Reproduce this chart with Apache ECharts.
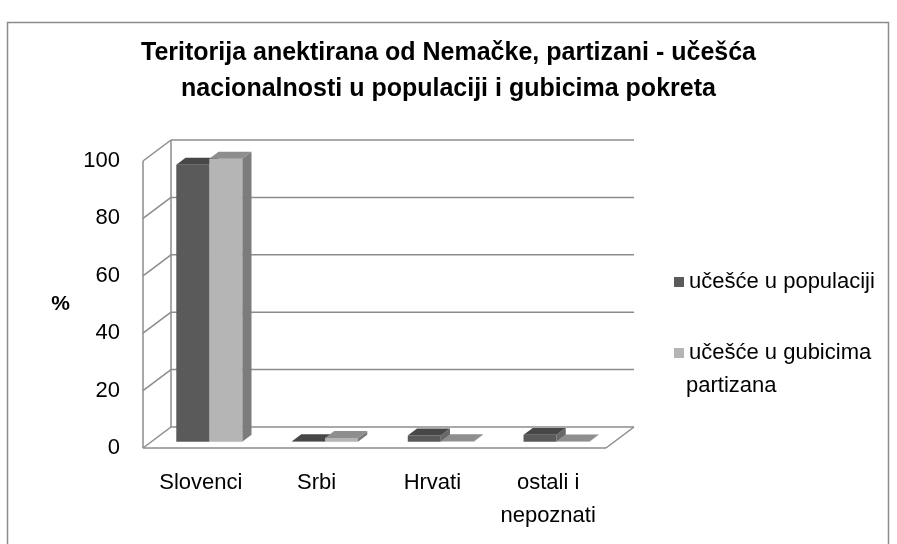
<!DOCTYPE html>
<html>
<head>
<meta charset="utf-8">
<script src="https://cdn.jsdelivr.net/npm/echarts@6/dist/echarts.min.js"></script>
<style>
  html, body { margin: 0; padding: 0; background: #fff; }
  #chart { width: 897px; height: 544px; }
</style>
</head>
<body>
<div id="chart"></div>
<script>
// podaci sa slike (procena)
const categories = ['Slovenci', 'Srbi', 'Hrvati', 'ostali i\nnepoznati'];
const populacija = [96.5, 0.2, 2.2, 2.4];
const gubici = [98.6, 1.3, 0.2, 0.1];
const yTicks = [0, 20, 40, 60, 80, 100];

const seriesNames = ['učešće u populaciji', 'učešće u gubicima'];

// dubina 3D pogleda u pikselima
const DX = 28, DY = -21;
const FONT = "'Liberation Sans', Arial, sans-serif";

const darkColors = { front: '#5a5a5a', side: '#686868', top: '#474747' };
const lightColors = { front: '#b5b5b5', side: '#7c7c7c', top: '#8e8e8e' };

function barRender(left, colors) {
  return function (params, api) {
    const cat = api.value(0);
    const val = api.value(1);
    const band = api.size([1, 0])[0];
    const w = band * 0.285;
    const base = api.coord([cat, 0]);
    const top = api.coord([cat, val]);
    const x0 = left ? base[0] - w : base[0];
    const x1 = x0 + w;
    const f = 0.3, b = 0.63;
    const fx = DX * f, fy = DY * f, bx = DX * b, by = DY * b;
    return {
      type: 'group',
      children: [
        {
          type: 'polygon',
          shape: { points: [[x1 + fx, top[1] + fy], [x1 + bx, top[1] + by], [x1 + bx, base[1] + by], [x1 + fx, base[1] + fy]] },
          style: { fill: colors.side }
        },
        {
          type: 'rect',
          shape: { x: x0 + fx, y: top[1] + fy, width: w, height: base[1] - top[1] },
          style: { fill: colors.front }
        },
        {
          type: 'polygon',
          shape: { points: [[x0 + fx, top[1] + fy], [x1 + fx, top[1] + fy], [x1 + bx, top[1] + by], [x0 + bx, top[1] + by]] },
          style: { fill: colors.top }
        }
      ]
    };
  };
}

function wallRender(params, api) {
  const v = api.value(1);
  const cs = params.coordSys;
  const l = cs.x, r = cs.x + cs.width;
  const y = api.coord([0, v])[1];
  const line = { stroke: '#8c8c8c', lineWidth: 1.5 };
  const kids = [
    { type: 'line', shape: { x1: l + DX, y1: y + DY, x2: r + DX, y2: y + DY }, style: line },
    { type: 'line', shape: { x1: l, y1: y, x2: l + DX, y2: y + DY }, style: line }
  ];
  if (v === 0) {
    const yTop = api.coord([0, 100])[1];
    kids.push(
      { type: 'line', shape: { x1: l, y1: y, x2: r, y2: y }, style: line },
      { type: 'line', shape: { x1: r, y1: y, x2: r + DX, y2: y + DY }, style: line },
      { type: 'line', shape: { x1: l, y1: y, x2: l, y2: yTop }, style: line },
      { type: 'line', shape: { x1: l + DX, y1: y + DY, x2: l + DX, y2: yTop + DY }, style: line }
    );
  }
  return { type: 'group', children: kids };
}

const chart = echarts.init(document.getElementById('chart'));

chart.setOption({
  backgroundColor: '#fff',
  animation: false,
  title: {
    text: 'Teritorija anektirana od Nemačke, partizani - učešća\nnacionalnosti u populaciji i gubicima pokreta',
    left: 'center',
    top: 30,
    textStyle: { fontFamily: "'Liberation Sans Narrow', " + FONT, fontSize: 25, fontWeight: 'bold', color: '#000', lineHeight: 36 }
  },
  legend: {
    orient: 'vertical',
    left: 669,
    top: 266,
    itemWidth: 10,
    itemHeight: 10,
    itemGap: 49,
    icon: 'rect',
    data: seriesNames,
    textStyle: { fontFamily: FONT, fontSize: 22, lineHeight: 22, color: '#000' }
  },
  grid: { left: 143, right: 291, top: 161, bottom: 96 },
  xAxis: {
    type: 'category',
    data: categories,
    axisLine: { show: false },
    axisTick: { show: false },
    axisLabel: { fontFamily: FONT, fontSize: 22, lineHeight: 33, color: '#000', margin: 18, interval: 0 }
  },
  yAxis: {
    type: 'value',
    min: 0,
    max: 100,
    interval: 20,
    name: '%',
    nameLocation: 'middle',
    nameRotate: 0,
    nameGap: 73,
    nameTextStyle: { fontFamily: FONT, fontSize: 21, fontWeight: 'bold', color: '#000' },
    axisLine: { show: false },
    axisTick: { show: false },
    splitLine: { show: false },
    axisLabel: { fontFamily: FONT, fontSize: 22, color: '#000', margin: 23, padding: [8, 0, 0, 0] }
  },
  graphic: [
    {
      type: 'rect',
      shape: { x: 7.5, y: 22.5, width: 881, height: 530 },
      style: { fill: null, stroke: '#8c8c8c', lineWidth: 1.5 },
      z: -1
    },
    {
      type: 'text',
      left: 686,
      top: 375,
      style: { text: 'partizana', font: '22px ' + FONT, fill: '#000' }
    }
  ],
  series: [
    {
      type: 'custom',
      name: 'zidovi',
      silent: true,
      z: 1,
      renderItem: wallRender,
      data: yTicks.map(v => [0, v])
    },
    {
      type: 'custom',
      name: seriesNames[0],
      z: 2,
      itemStyle: { color: darkColors.front },
      renderItem: barRender(true, darkColors),
      data: populacija.map((v, i) => [i, v])
    },
    {
      type: 'custom',
      name: seriesNames[1],
      z: 3,
      itemStyle: { color: lightColors.front },
      renderItem: barRender(false, lightColors),
      data: gubici.map((v, i) => [i, v])
    }
  ]
});
</script>
</body>
</html>
